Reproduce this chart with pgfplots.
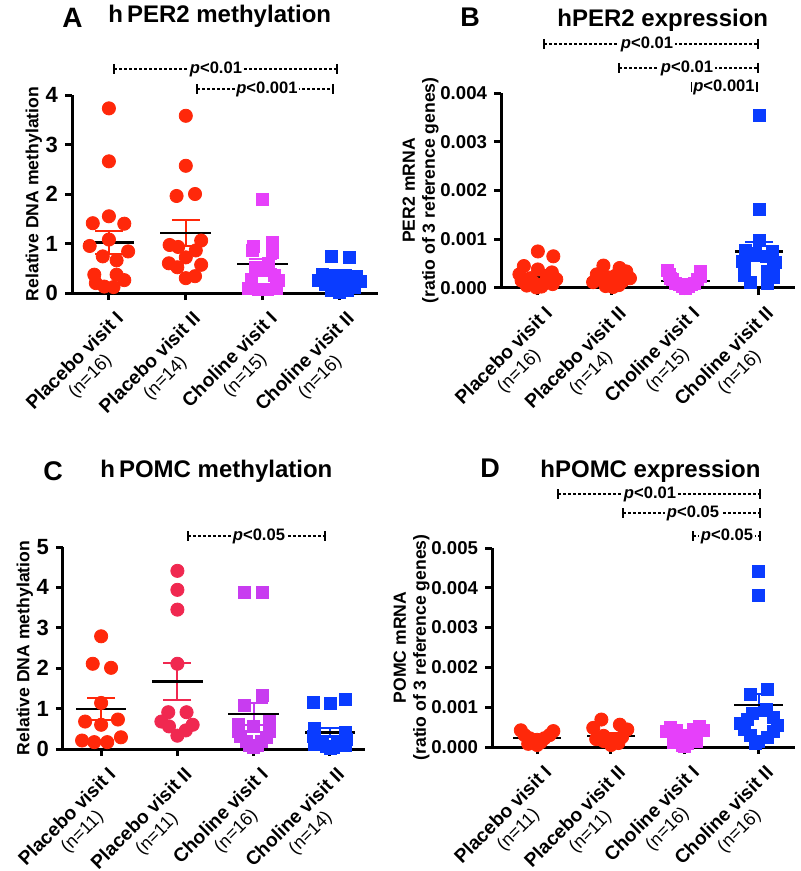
\documentclass[border=0pt]{standalone}
\usepackage{fontspec}
\setmainfont{Liberation Sans}
\usepackage{pgfplots}
\pgfplotsset{compat=1.18}

\definecolor{pred}{RGB}{255,40,10}
\definecolor{pcrim}{RGB}{240,40,80}
\definecolor{cmag}{RGB}{230,64,250}
\definecolor{cpur}{RGB}{200,60,240}
\definecolor{cblue}{RGB}{10,60,255}

\newcommand{\nsub}[1]{\fontsize{9}{9.8}\selectfont\mdseries #1}

\pgfplotsset{
  gp/.style={
    scale only axis, clip=false,
    axis x line=bottom, axis y line=left,
    axis line style={-, line width=1.5pt},
    tick style={black, line width=1.5pt},
    tick align=outside, major tick length=3.5pt,
    xtick={0,1,2,3}, ymin=0,
    /pgf/number format/assume math mode=true,
    yticklabel style={font=\fontsize{11}{11}\selectfont\bfseries},
    xticklabel style={rotate=45, anchor=north east, align=center, xshift=2pt, yshift=-2pt,
      font=\fontsize{9.6}{10.4}\selectfont\bfseries},
    ylabel style={font=\fontsize{8.8}{10}\selectfont\bfseries, align=center},
    ylabel shift=-5pt,
  },
  small/.style={
    scaled y ticks=false,
    yticklabel style={font=\fontsize{9.3}{9.3}\selectfont\bfseries,
      /pgf/number format/.cd, fixed, fixed zerofill, precision=3},
    ylabel shift=-6pt,
  },
  circ/.style={only marks, mark=*, mark size=3.3pt, color=#1},
  sq/.style={only marks, mark=square*, mark size=3pt, color=#1},
  meanl/.style={only marks, mark=text, text mark={}, error bars/.cd, x dir=both, x fixed=0.33,
    error mark=none, error bar style={black, line width=1.1pt}},
  sem/.style={only marks, mark=text, text mark={}, color=#1, error bars/.cd, y dir=both, y explicit,
    error bar style={#1, line width=1.1pt},
    error mark options={rotate=90, mark size=7pt, #1, line width=1.1pt}},
}

% p-value bracket: x1 x2 y xtext text (pixel units)
\newcommand{\pline}[5]{%
  \draw[line width=0.6pt, dash pattern=on 1.6pt off 0.9pt] (#1,#3) -- (#2,#3);
  \draw[line width=0.8pt] (#1,#3-5) -- (#1,#3+5) (#2,#3-5) -- (#2,#3+5);
  \node[fill=white, inner sep=0.8pt, font=\fontsize{8.3}{9}\selectfont\bfseries] at (#4,#3) {#5};
}

\begin{document}
\begin{tikzpicture}
\path[use as bounding box] (0,0) rectangle (400pt,-435.5pt);

% ---------------- A
\begin{axis}[gp, at={(36pt,-146.5pt)}, anchor=south west,
  width=153pt, height=99pt, xmin=-0.48, xmax=3.5, ymax=4, ytick={0,1,2,3,4},
  ylabel={Relative DNA methylation},
  xticklabels={{Placebo visit I\\\nsub{(n=16)}},{Placebo visit II\\\nsub{(n=14)}},
    {Choline visit I\\\nsub{(n=15)}},{Choline visit II\\\nsub{(n=16)}}}]
\addplot[circ=pred] table[x expr=0+\thisrow{dx}, y=y] {
dx y
0 3.73
0 2.66
0 1.55
-0.21 1.41
0.2 1.40
0 1.08
-0.25 0.95
0.25 0.84
-0.08 0.74
0.1 0.66
-0.19 0.37
0.1 0.37
0.2 0.26
-0.17 0.2
-0.06 0.13
0.06 0.12
};
\addplot[circ=pred] table[x expr=1+\thisrow{dx}, y=y] {
dx y
0 3.58
0 2.57
-0.12 1.96
0.12 2.0
0.2 1.06
-0.21 0.97
-0.1 0.93
0.13 0.86
0 0.72
-0.22 0.60
-0.11 0.52
0.2 0.57
0 0.30
0.12 0.34
};
\addplot[sq=cmag] table[x expr=2+\thisrow{dx}, y=y] {
dx y
0 1.90
0.12 1.02
-0.12 0.95
0.13 0.82
-0.13 0.86
0.08 0.60
-0.1 0.52
0 0.45
0.15 0.35
-0.15 0.28
0.2 0.25
-0.18 0.1
-0.06 0.08
0.06 0.07
0.18 0.1
};
\addplot[sq=cblue] table[x expr=3+\thisrow{dx}, y=y] {
dx y
-0.11 0.74
0.13 0.71
-0.22 0.37
-0.08 0.36
0.08 0.36
0.22 0.33
-0.27 0.25
0 0.22
0.27 0.23
-0.19 0.17
-0.06 0.15
0.07 0.14
0.19 0.12
-0.1 0.06
0 0.02
0.1 0.05
};
\addplot[sem=pred] coordinates {(0,1.02) +- (0,0.24) (1,1.21) +- (0,0.26)};
\addplot[sem=cmag] coordinates {(2,0.585) +- (0,0.1)};
\addplot[sem=cblue] coordinates {(3,0.22) +- (0,0.05)};
\addplot[meanl] coordinates {(0,1.02) (1,1.21) (2,0.585) (3,0.22)};
\end{axis}

% ---------------- B
\begin{axis}[gp, small, at={(250.5pt,-144pt)}, anchor=south west,
  width=147pt, height=97.5pt, xmin=-0.5, xmax=3.49, ymax=0.004,
  ytick={0,0.001,0.002,0.003,0.004},
  ylabel={PER2 mRNA\\(ratio of 3 reference genes)},
  xticklabels={{Placebo visit I\\\nsub{(n=16)}},{Placebo visit II\\\nsub{(n=14)}},
    {Choline visit I\\\nsub{(n=15)}},{Choline visit II\\\nsub{(n=16)}}}]
\addplot[circ=pred] table[x expr=0+\thisrow{dx}, y=y] {
dx y
0 0.00075
0.21 0.00065
-0.19 0.00045
0 0.00038
0.19 0.00032
-0.25 0.00028
0.12 0.00025
-0.1 0.0002
0.25 0.00018
-0.22 0.00015
0.1 0.00012
-0.05 0.0001
0.2 0.00008
-0.15 0.00005
0.05 0.00003
-0.02 0.00001
};
\addplot[circ=pred] table[x expr=1+\thisrow{dx}, y=y] {
dx y
-0.11 0.00046
0.11 0.00041
0.2 0.00034
-0.2 0.00028
0.05 0.00025
-0.05 0.00022
0.25 0.0002
-0.15 0.00017
0.15 0.00014
-0.25 0.00012
0 0.00009
0.1 0.00006
-0.08 0.00004
0.02 0.00002
};
\addplot[sq=cmag] table[x expr=2+\thisrow{dx}, y=y] {
dx y
-0.24 0.00037
0.21 0.00034
-0.22 0.00027
0.21 0.00024
-0.2 0.0002
-0.17 0.00017
0.17 0.00017
-0.13 0.0001
0.12 0.0001
-0.08 0.00007
0.08 0.00007
-0.04 0.00004
0.04 0.00004
0 0.00001
0 0.0
};
\addplot[sq=cblue] table[x expr=3+\thisrow{dx}, y=y] {
dx y
0 0.00354
0 0.00162
0 0.00097
-0.18 0.00078
0.18 0.00076
-0.05 0.0007
0.1 0.00065
-0.22 0.00055
0.22 0.00052
-0.2 0.00045
0.2 0.00042
0.12 0.00035
-0.2 0.00025
0.2 0.00022
-0.12 0.00012
0.12 0.0001
};
\addplot[sem=pred] coordinates {(0,0.00023) +- (0,0.00005) (1,0.00018) +- (0,0.00003)};
\addplot[sem=cmag] coordinates {(2,0.00014) +- (0,0.00003)};
\addplot[sem=cblue] coordinates {(3,0.00075) +- (0,0.0002)};
\addplot[meanl] coordinates {(0,0.00023) (1,0.00018) (2,0.00014) (3,0.00075)};
\end{axis}

% ---------------- C
\begin{axis}[gp, at={(31.5pt,-374.5pt)}, anchor=south west,
  width=151pt, height=101pt, xmin=-0.5, xmax=3.46, ymax=5, ytick={0,1,2,3,4,5},
  ylabel={Relative DNA methylation},
  xticklabels={{Placebo visit I\\\nsub{(n=11)}},{Placebo visit II\\\nsub{(n=11)}},
    {Choline visit I\\\nsub{(n=16)}},{Choline visit II\\\nsub{(n=14)}}}]
\addplot[circ=pred] table[x expr=0+\thisrow{dx}, y=y] {
dx y
0 2.79
-0.11 2.11
0.13 2.01
0 1.14
-0.21 0.68
0 0.6
0.22 0.73
-0.25 0.21
-0.09 0.17
0.08 0.17
0.26 0.29
};
\addplot[circ=pcrim] table[x expr=1+\thisrow{dx}, y=y] {
dx y
0 4.41
0 3.94
0 3.45
0 2.11
-0.12 0.91
0.12 0.91
-0.21 0.68
-0.11 0.56
0.2 0.6
0.11 0.46
0 0.33
};
\addplot[sq=cpur] table[x expr=2+\thisrow{dx}, y=y] {
dx y
-0.12 3.88
0.11 3.88
0.11 1.32
-0.12 1.08
0.21 0.68
-0.2 0.6
0 0.55
0.21 0.44
-0.2 0.44
-0.17 0.3
0.17 0.28
-0.1 0.2
0.1 0.2
-0.05 0.1
0.05 0.1
0 0.05
};
\addplot[sq=cblue] table[x expr=3+\thisrow{dx}, y=y] {
dx y
-0.22 1.16
0 1.14
0.2 1.24
-0.2 0.52
0.2 0.4
-0.22 0.3
0.22 0.25
-0.1 0.2
0.1 0.18
-0.2 0.12
0.2 0.1
-0.05 0.06
0.05 0.05
0 0.02
};
\addplot[sem=pred] coordinates {(0,0.99) +- (0,0.27)};
\addplot[sem=pcrim] coordinates {(1,1.67) +- (0,0.46)};
\addplot[sem=cpur] coordinates {(2,0.87) +- (0,0.27)};
\addplot[sem=cblue] coordinates {(3,0.41) +- (0,0.11)};
\addplot[meanl] coordinates {(0,0.99) (1,1.67) (2,0.87) (3,0.41)};
\end{axis}

% ---------------- D
\begin{axis}[gp, small, at={(246pt,-373.5pt)}, anchor=south west,
  width=151.5pt, height=99.5pt, xmin=-0.61, xmax=3.49, ymax=0.005,
  ytick={0,0.001,0.002,0.003,0.004,0.005},
  ylabel={POMC mRNA\\(ratio of 3 reference genes)},
  xticklabels={{Placebo visit I\\\nsub{(n=11)}},{Placebo visit II\\\nsub{(n=11)}},
    {Choline visit I\\\nsub{(n=16)}},{Choline visit II\\\nsub{(n=16)}}}]
\addplot[circ=pred] table[x expr=0+\thisrow{dx}, y=y] {
dx y
-0.22 0.00042
0.22 0.0004
-0.17 0.0003
0.17 0.0003
-0.1 0.00022
0.1 0.00022
0 0.00018
-0.05 0.00012
0.05 0.00012
-0.12 0.00008
0 0.00005
};
\addplot[circ=pred] table[x expr=1+\thisrow{dx}, y=y] {
dx y
-0.13 0.00069
0.12 0.00056
-0.24 0.00048
0.22 0.00044
-0.1 0.00028
0.15 0.00025
-0.2 0.0002
0.05 0.0002
-0.1 0.00015
0.1 0.0001
0 0.00005
};
\addplot[sq=cmag] table[x expr=2+\thisrow{dx}, y=y] {
dx y
0.2 0.00052
-0.2 0.0005
0.12 0.00044
-0.12 0.00042
0.25 0.00042
-0.25 0.0004
0 0.0003
0.15 0.0003
-0.15 0.00028
0.08 0.00022
-0.08 0.0002
0.15 0.00015
-0.15 0.00012
0.03 0.00008
-0.03 0.00005
0 0.00002
};
\addplot[sq=cblue] table[x expr=3+\thisrow{dx}, y=y] {
dx y
0 0.00441
0 0.0038
-0.12 0.00131
0.12 0.00144
0.1 0.00095
-0.08 0.00085
0.2 0.00075
-0.15 0.0007
-0.25 0.0006
0.25 0.00055
-0.2 0.00045
0.2 0.0004
-0.12 0.0003
0.12 0.00025
0 0.00015
-0.05 0.0001
};
\addplot[sem=pred] coordinates {(0,0.00023) +- (0,0.00004) (1,0.00028) +- (0,0.00006)};
\addplot[sem=cmag] coordinates {(2,0.00029) +- (0,0.00004)};
\addplot[sem=cblue] coordinates {(3,0.00106) +- (0,0.00028)};
\addplot[meanl] coordinates {(0,0.00023) (1,0.00028) (2,0.00029) (3,0.00106)};
\end{axis}

% ---------------- titles and p-values (pixel units)
\begin{scope}[x=0.5pt, y=-0.5pt]
\node[anchor=base west, inner sep=0, font=\fontsize{14}{14}\selectfont\bfseries] at (62,28) {A};
\node[anchor=base west, inner sep=0, font=\fontsize{12}{12}\selectfont\bfseries] at (108,23) {h\,PER2 methylation};
\node[anchor=base west, inner sep=0, font=\fontsize{13.5}{14}\selectfont\bfseries] at (460,27) {B};
\node[anchor=base west, inner sep=0, font=\fontsize{12}{12}\selectfont\bfseries] at (557,27) {hPER2 expression};
\node[anchor=base west, inner sep=0, font=\fontsize{13.5}{14}\selectfont\bfseries] at (43,480) {C};
\node[anchor=base west, inner sep=0, font=\fontsize{12}{12}\selectfont\bfseries] at (100,477) {h\,POMC methylation};
\node[anchor=base west, inner sep=0, font=\fontsize{13.5}{14}\selectfont\bfseries] at (480,477) {D};
\node[anchor=base west, inner sep=0, font=\fontsize{12}{12}\selectfont\bfseries] at (540,477) {hPOMC expression};

\pline{114}{337}{69}{216}{\textit{p}<0.01}
\pline{197}{333}{89}{267}{\textit{p}<0.001}
\pline{544}{758}{44}{647}{\textit{p}<0.01}
\pline{619}{758}{68}{687}{\textit{p}<0.01}
\pline{692}{757}{87}{724}{\textit{p}<0.001}
\pline{188}{325}{536}{259}{\textit{p}<0.05}
\pline{558}{760}{494}{650}{\textit{p}<0.01}
\pline{623}{760}{513}{693}{\textit{p}<0.05}
\pline{693}{760}{536}{727}{\textit{p}<0.05}
\end{scope}
\end{tikzpicture}
\end{document}
